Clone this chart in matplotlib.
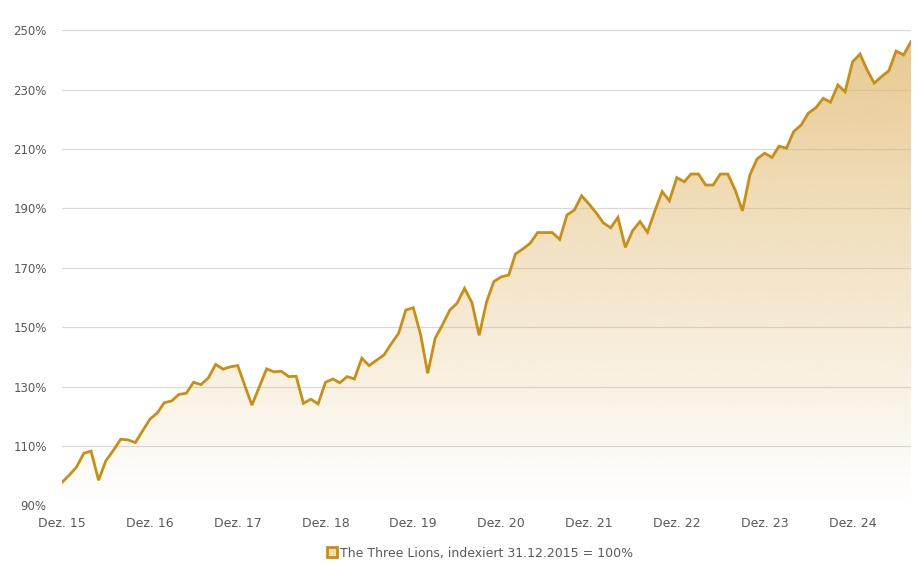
import numpy as np
import pandas as pd
import matplotlib
matplotlib.use("Agg")
import matplotlib.pyplot as plt
from matplotlib.patches import Patch

# monthly index values, Dez. 2015 .. Aug. 2025
values = [
    97.8, 100.3, 102.9, 107.6, 108.3, 98.5, 105.0, 108.5, 112.3, 112.1,
    111.2, 115.1, 119.1, 121.2, 124.6, 125.2, 127.4, 127.8, 131.5, 130.7,
    133.0, 137.5, 135.9, 136.7, 137.1, 130.0, 123.8, 130.0, 136.0, 135.0,
    135.2, 133.4, 133.5, 124.4, 125.8, 124.2, 131.5, 132.6, 131.3, 133.4,
    132.6, 139.6, 137.1, 138.9, 140.7, 144.4, 148.0, 155.8, 156.6, 147.4,
    134.5, 146.3, 150.8, 155.8, 158.1, 163.1, 158.3, 147.3, 158.6, 165.4,
    167.0, 167.6, 174.7, 176.4, 178.3, 181.9, 181.9, 181.9, 179.6, 187.8,
    189.5, 194.3, 191.5, 188.4, 185.2, 183.5, 187.0, 176.9, 182.5, 185.6,
    182.0, 189.0, 195.7, 192.6, 200.4, 199.0, 201.6, 201.6, 197.9, 197.9,
    201.6, 201.6, 196.2, 189.2, 201.3, 206.7, 208.6, 207.2, 211.0, 210.3,
    215.9, 218.1, 222.1, 223.9, 227.1, 225.8, 231.6, 229.3, 239.4, 242.0,
    236.9, 232.2, 234.4, 236.4, 243.0, 241.7, 246.2,
]
dates = pd.date_range("2015-12-31", periods=len(values), freq="ME")

tick_dates = pd.to_datetime(["2015-12-31", "2016-12-31", "2017-12-31", "2018-12-31",
                             "2019-12-31", "2020-12-31", "2021-12-31", "2022-12-31",
                             "2023-12-31", "2024-12-31"])
tick_labels = ["Dez. 15", "Dez. 16", "Dez. 17", "Dez. 18", "Dez. 19",
               "Dez. 20", "Dez. 21", "Dez. 22", "Dez. 23", "Dez. 24"]
y_ticks = [90, 110, 130, 150, 170, 190, 210, 230, 250]
series_name = "The Three Lions, indexiert 31.12.2015 = 100%"

line_color = "#C98F12"
text_color = "#595959"

fig = plt.figure(figsize=(9.18, 5.69), dpi=100)
ax = fig.add_axes([62 / 918, 63.5 / 569, 849 / 918, 475.2 / 569])

x = matplotlib.dates.date2num(dates)
y = np.array(values)
ymin, ymax = 90, 250

# gradient fill below the line
base = np.array([222, 180, 100]) / 255.0
n = 256
alpha = np.linspace(0.72, 0.0, n)
grad = np.zeros((n, 1, 4))
grad[:, 0, :3] = base
grad[:, 0, 3] = alpha
poly = ax.fill_between(x, y, ymin, color="none", lw=0)
img = ax.imshow(grad, aspect="auto", extent=[x[0], x[-1], ymin, ymax],
                origin="upper", zorder=1, interpolation="bilinear")
img.set_clip_path(poly.get_paths()[0], transform=ax.transData)

ax.plot(x, y, color=line_color, lw=2.0, zorder=3, solid_joinstyle="miter")

ax.set_xlim(x[0], x[-1])
ax.set_ylim(ymin, ymax)
ax.set_yticks(y_ticks)
ax.set_yticklabels([f"{v}%" for v in y_ticks])
ax.set_xticks(matplotlib.dates.date2num(tick_dates))
ax.set_xticklabels(tick_labels)

ax.grid(axis="y", color="#D9D9D9", lw=0.9, zorder=0)
ax.yaxis.get_gridlines()[0].set_visible(False)
ax.set_axisbelow(True)
for s in ax.spines.values():
    s.set_visible(False)
ax.tick_params(axis="both", length=0, labelcolor=text_color)
ax.tick_params(axis="y", pad=11, labelsize=8.5)
ax.tick_params(axis="x", pad=8, labelsize=9)

handle = Patch(facecolor="#F3DDB0", edgecolor=line_color, linewidth=2)
fig.legend([handle], [series_name], loc="center", bbox_to_anchor=(480 / 918, 1 - 553 / 569),
           frameon=False, fontsize=9, labelcolor=text_color,
           handlelength=0.8, handleheight=0.8, handletextpad=0.3)

fig.savefig("out.png", dpi=100, facecolor="white")
